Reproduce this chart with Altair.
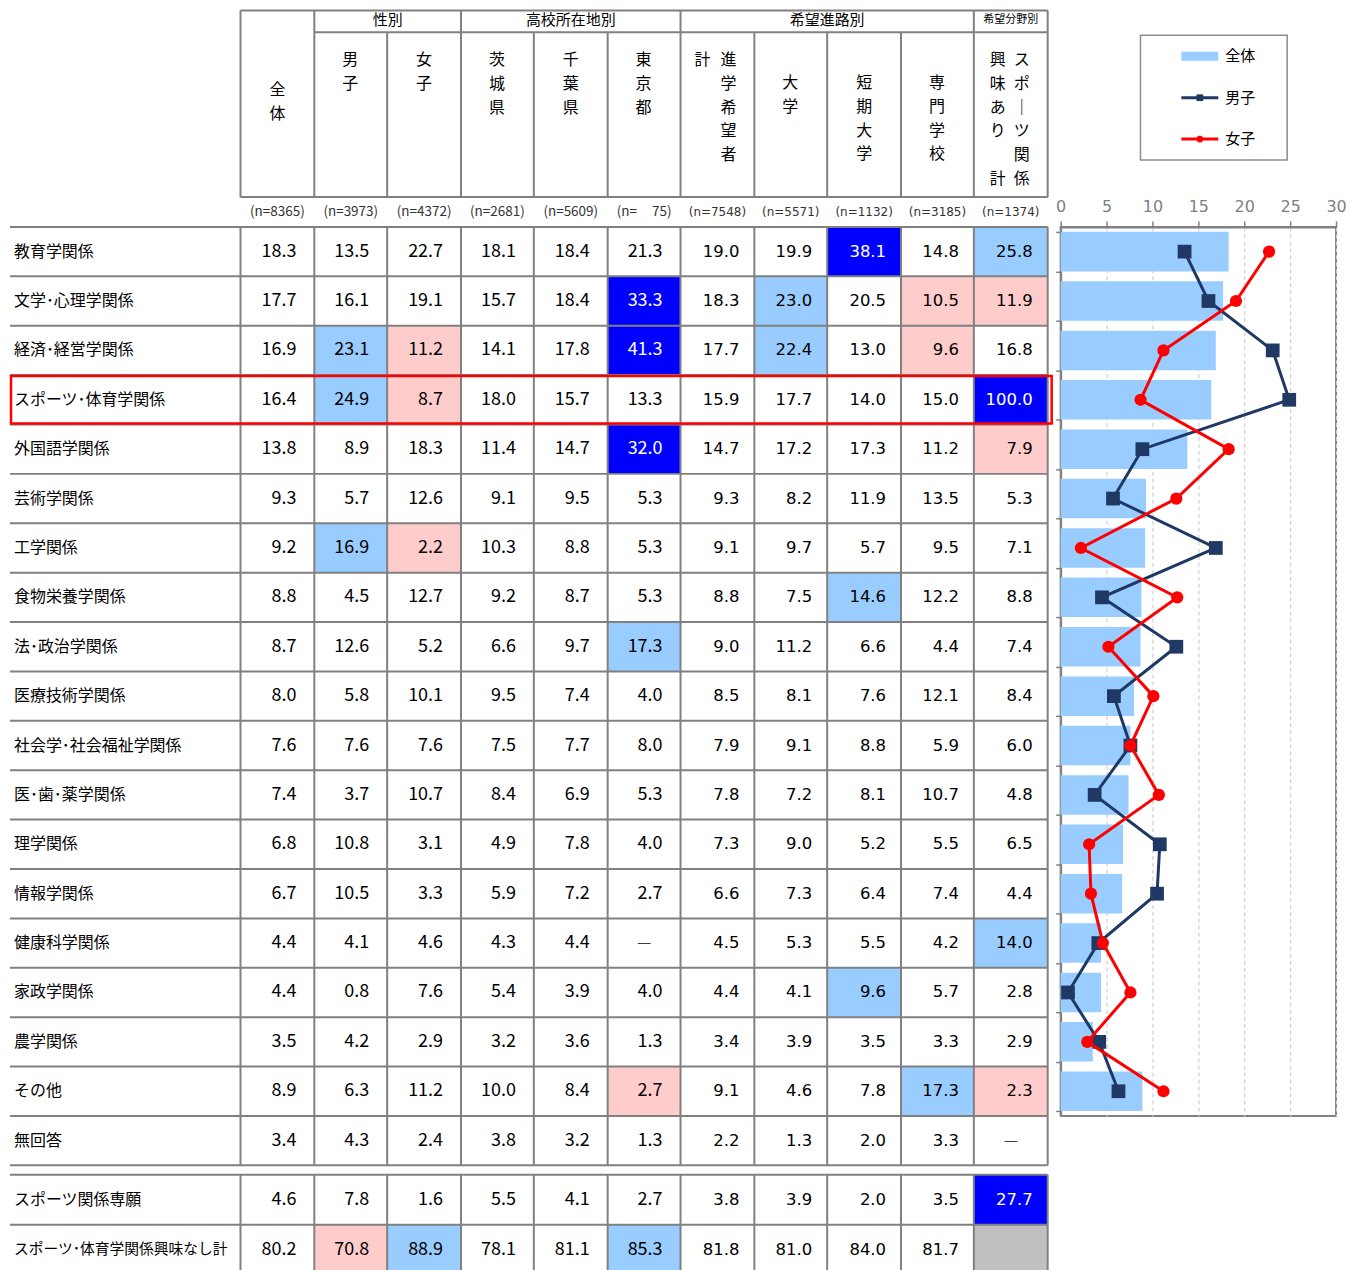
import altair as alt
import pandas as pd

# ---------------- data ----------------
row_labels = ["教育学関係", "文学･心理学関係", "経済･経営学関係", "スポーツ･体育学関係", "外国語学関係",
              "芸術学関係", "工学関係", "食物栄養学関係", "法･政治学関係", "医療技術学関係",
              "社会学･社会福祉学関係", "医･歯･薬学関係", "理学関係", "情報学関係", "健康科学関係",
              "家政学関係", "農学関係", "その他", "無回答",
              "スポーツ関係専願", "スポーツ･体育学関係興味なし計"]

group_labels = ["性別", "高校所在地別", "希望進路別", "希望分野別"]
n_labels = ["(n=8365)", "(n=3973)", "(n=4372)", "(n=2681)", "(n=5609)", "(n=\u2007\u200775)",
            "(n=7548)", "(n=5571)", "(n=1132)", "(n=3185)", "(n=1374)"]

# columns: 全体, 男子, 女子, 茨城県, 千葉県, 東京都, 進学希望者計, 大学, 短期大学, 専門学校, スポーツ関係興味あり計
table_values = [
    [18.3, 13.5, 22.7, 18.1, 18.4, 21.3, 19.0, 19.9, 38.1, 14.8, 25.8],
    [17.7, 16.1, 19.1, 15.7, 18.4, 33.3, 18.3, 23.0, 20.5, 10.5, 11.9],
    [16.9, 23.1, 11.2, 14.1, 17.8, 41.3, 17.7, 22.4, 13.0, 9.6, 16.8],
    [16.4, 24.9, 8.7, 18.0, 15.7, 13.3, 15.9, 17.7, 14.0, 15.0, 100.0],
    [13.8, 8.9, 18.3, 11.4, 14.7, 32.0, 14.7, 17.2, 17.3, 11.2, 7.9],
    [9.3, 5.7, 12.6, 9.1, 9.5, 5.3, 9.3, 8.2, 11.9, 13.5, 5.3],
    [9.2, 16.9, 2.2, 10.3, 8.8, 5.3, 9.1, 9.7, 5.7, 9.5, 7.1],
    [8.8, 4.5, 12.7, 9.2, 8.7, 5.3, 8.8, 7.5, 14.6, 12.2, 8.8],
    [8.7, 12.6, 5.2, 6.6, 9.7, 17.3, 9.0, 11.2, 6.6, 4.4, 7.4],
    [8.0, 5.8, 10.1, 9.5, 7.4, 4.0, 8.5, 8.1, 7.6, 12.1, 8.4],
    [7.6, 7.6, 7.6, 7.5, 7.7, 8.0, 7.9, 9.1, 8.8, 5.9, 6.0],
    [7.4, 3.7, 10.7, 8.4, 6.9, 5.3, 7.8, 7.2, 8.1, 10.7, 4.8],
    [6.8, 10.8, 3.1, 4.9, 7.8, 4.0, 7.3, 9.0, 5.2, 5.5, 6.5],
    [6.7, 10.5, 3.3, 5.9, 7.2, 2.7, 6.6, 7.3, 6.4, 7.4, 4.4],
    [4.4, 4.1, 4.6, 4.3, 4.4, None, 4.5, 5.3, 5.5, 4.2, 14.0],
    [4.4, 0.8, 7.6, 5.4, 3.9, 4.0, 4.4, 4.1, 9.6, 5.7, 2.8],
    [3.5, 4.2, 2.9, 3.2, 3.6, 1.3, 3.4, 3.9, 3.5, 3.3, 2.9],
    [8.9, 6.3, 11.2, 10.0, 8.4, 2.7, 9.1, 4.6, 7.8, 17.3, 2.3],
    [3.4, 4.3, 2.4, 3.8, 3.2, 1.3, 2.2, 1.3, 2.0, 3.3, None],
    [4.6, 7.8, 1.6, 5.5, 4.1, 2.7, 3.8, 3.9, 2.0, 3.5, 27.7],
    [80.2, 70.8, 88.9, 78.1, 81.1, 85.3, 81.8, 81.0, 84.0, 81.7, None],
]

# highlighted cells (row, column)
blue_cells = [(0, 8), (1, 5), (2, 5), (3, 10), (4, 5), (19, 10)]
light_cells = [(0, 10), (1, 7), (2, 1), (2, 7), (3, 1), (6, 1), (7, 8), (8, 5),
               (14, 10), (15, 8), (17, 9), (20, 2), (20, 5)]
pink_cells = [(1, 9), (1, 10), (2, 2), (2, 9), (3, 2), (4, 10), (6, 2), (17, 5), (17, 10), (20, 1)]
gray_cells = [(20, 10)]

# vertical column headers (stacked top to bottom)
col_headers = ["全体", "男子", "女子", "茨城県", "千葉県", "東京都", "進学希望者", "計",
               "大学", "短期大学", "専門学校", "スポ｜ツ関係", "興味あり", "計"]

legend_names = ["全体", "男子", "女子"]

# ---------------- layout (page pixels) ----------------
PX0, PY0 = 8, 8
T_RIGHT, T_BOTTOM = 1054, 1276
COL_EDGES = [240, 314, 387, 461, 534, 608, 681, 755, 828, 902, 975, 1049]
LABEL_X = 13
HDR_TOP, HDR_MID, HDR_BOT = 9, 31, 196
N_Y = 211
BODY_TOP, ROW_H = 226, 49.5
LOW_TOP, LOW_H = 1176, 50
CHAR_STEP = 23.7
HDR_POS = [(277, 89), (350, 59), (424, 59), (497, 59), (571, 59), (644, 59), (729, 59), (703, 59),
           (791, 82), (865, 82), (938, 82), (1023, 59), (999, 59), (999, 178)]
GROUP_POS = [(387.5, 19, 15), (571, 19, 15), (828, 19, 15), (1012, 19, 11)]


def row_span(r):
    if r < 19:
        return BODY_TOP + ROW_H * r, BODY_TOP + ROW_H * (r + 1)
    return LOW_TOP + LOW_H * (r - 19), LOW_TOP + LOW_H * (r - 18)


fill_of = {}
for rc in blue_cells:
    fill_of[rc] = "#0000FF"
for rc in light_cells:
    fill_of[rc] = "#99CCFF"
for rc in pink_cells:
    fill_of[rc] = "#FFCCCC"
for rc in gray_cells:
    fill_of[rc] = "#C0C0C0"

cells = []
for r, row in enumerate(table_values):
    y1, y2 = row_span(r)
    for c, v in enumerate(row):
        x1, x2 = COL_EDGES[c], COL_EDGES[c + 1]
        fill = fill_of.get((r, c), "none")
        if v is None:
            label = "" if (r, c) in gray_cells else "—"
            kind = "dash"
        else:
            label = f"{v:.1f}"
            kind = "num"
        cells.append(dict(x1=x1, x2=x2, y1=y1, y2=y2, ym=(y1 + y2) / 2,
                          xr=x2 - (18 if c < 6 else 15),
                          xc=(x1 + x2) / 2, fill=fill, label=label, kind=kind,
                          side="L" if c < 6 else "R",
                          tcolor="#FFFFFF" if fill == "#0000FF" else "#000000"))
cells_df = pd.DataFrame(cells)

labels_df = pd.DataFrame([dict(x=LABEL_X, y=sum(row_span(r)) / 2, label=lab, long=len(lab) > 12)
                          for r, lab in enumerate(row_labels)])

lines = []
lines.append((240, HDR_TOP, 1049, HDR_TOP))
lines.append((314, HDR_MID, 1049, HDR_MID))
lines.append((240, HDR_BOT, 1049, HDR_BOT))
for x in [240, 314, 461, 681, 975, 1049]:
    lines.append((x, HDR_TOP, x, HDR_BOT))
for x in [387, 534, 608, 755, 828, 902]:
    lines.append((x, HDR_MID, x, HDR_BOT))
for i in range(20):
    y = BODY_TOP + ROW_H * i
    lines.append((9, y, 1049, y))
for j in range(3):
    y = LOW_TOP + LOW_H * j
    lines.append((9, y, 1049, y))
for x in COL_EDGES:
    lines.append((x, BODY_TOP, x, BODY_TOP + ROW_H * 19))
    lines.append((x, LOW_TOP, x, LOW_TOP + 2 * LOW_H))
lines_df = pd.DataFrame(lines, columns=["x1", "y1", "x2", "y2"])

hdr_chars = []
for text, (hx, hy) in zip(col_headers, HDR_POS):
    for k, ch in enumerate(text):
        hdr_chars.append(dict(x=hx, y=hy + CHAR_STEP * k, ch=ch))
hdr_df = pd.DataFrame(hdr_chars)

grp_df = pd.DataFrame([dict(x=gx, y=gy, fs=fs, label=g) for g, (gx, gy, fs) in zip(group_labels, GROUP_POS)])
n_df = pd.DataFrame([dict(x=(COL_EDGES[c] + COL_EDGES[c + 1]) / 2, y=N_Y, label=lab,
                          side="L" if c < 6 else "R") for c, lab in enumerate(n_labels)])

hl_y1, hl_y2 = row_span(3)
hl_df = pd.DataFrame([dict(x1=10, x2=1053, y1=hl_y1 + 1, y2=hl_y2 - 1)])

# ---------------- table chart ----------------
xs = alt.Scale(domain=[PX0, T_RIGHT], nice=False, zero=False)
ys = alt.Scale(domain=[PY0, T_BOTTOM], nice=False, zero=False, reverse=True)


def X(f):
    return alt.X(f"{f}:Q", scale=xs, axis=None)


def Y(f):
    return alt.Y(f"{f}:Q", scale=ys, axis=None)


JP = "Noto Sans CJK JP"

fills = alt.Chart(cells_df).transform_filter("datum.fill != 'none'").mark_rect().encode(
    x=X("x1"), x2="x2", y=Y("y1"), y2="y2", color=alt.Color("fill:N", scale=None))
rules = alt.Chart(lines_df).mark_rule(color="#808080", strokeWidth=2).encode(
    x=X("x1"), x2="x2", y=Y("y1"), y2="y2")
nums_l = alt.Chart(cells_df).transform_filter("datum.kind == 'num' && datum.side == 'L'").mark_text(
    align="right", baseline="middle", font=JP, fontSize=18).encode(
    x=X("xr"), y=Y("ym"), text="label:N", color=alt.Color("tcolor:N", scale=None))
nums_r = alt.Chart(cells_df).transform_filter("datum.kind == 'num' && datum.side == 'R'").mark_text(
    align="right", baseline="middle", font="DejaVu Sans", fontSize=16.5).encode(
    x=X("xr"), y=Y("ym"), text="label:N", color=alt.Color("tcolor:N", scale=None))
dashes = alt.Chart(cells_df).transform_filter("datum.kind == 'dash'").mark_text(
    align="center", baseline="middle", font=JP, fontSize=16, color="#404040").encode(
    x=X("xc"), y=Y("ym"), text="label:N")
row_text = alt.Chart(labels_df).transform_filter("!datum.long").mark_text(
    align="left", baseline="middle", font=JP, fontSize=16, color="#000000").encode(
    x=X("x"), y=Y("y"), text="label:N")
row_text_long = alt.Chart(labels_df).transform_filter("datum.long").mark_text(
    align="left", baseline="middle", font=JP, fontSize=14.8, color="#000000").encode(
    x=X("x"), y=Y("y"), text="label:N")
hdr_text = alt.Chart(hdr_df).mark_text(align="center", baseline="middle", font=JP, fontSize=16,
                                       color="#000000").encode(x=X("x"), y=Y("y"), text="ch:N")
grp_big = alt.Chart(grp_df).transform_filter("datum.fs > 12").mark_text(
    align="center", baseline="middle", font=JP, fontSize=15, color="#000000").encode(
    x=X("x"), y=Y("y"), text="label:N")
grp_small = alt.Chart(grp_df).transform_filter("datum.fs <= 12").mark_text(
    align="center", baseline="middle", font=JP, fontSize=11, color="#000000").encode(
    x=X("x"), y=Y("y"), text="label:N")
n_l = alt.Chart(n_df).transform_filter("datum.side == 'L'").mark_text(
    align="center", baseline="middle", font=JP, fontSize=13.5, color="#333333").encode(
    x=X("x"), y=Y("y"), text="label:N")
n_r = alt.Chart(n_df).transform_filter("datum.side == 'R'").mark_text(
    align="center", baseline="middle", font="DejaVu Sans", fontSize=12, color="#333333").encode(
    x=X("x"), y=Y("y"), text="label:N")
hl = alt.Chart(hl_df).mark_rect(fill="transparent", stroke="#FF0000", strokeWidth=2.5).encode(
    x=X("x1"), x2="x2", y=Y("y1"), y2="y2")

table = alt.layer(fills, rules, nums_l, nums_r, dashes, row_text, row_text_long, hdr_text,
                  grp_big, grp_small, n_l, n_r, hl).properties(
    width=T_RIGHT - PX0, height=T_BOTTOM - PY0,
    view=alt.ViewBackground(stroke="transparent"))

# ---------------- bar + line chart ----------------
cats = row_labels[:18]
bar_df = pd.DataFrame({
    "cat": cats,
    "idx": list(range(18)),
    "total": [r[0] for r in table_values[:18]],
    "male": [r[1] for r in table_values[:18]],
    "female": [r[2] for r in table_values[:18]],
})

yaxis = alt.Axis(labels=False, title=None, tickBand="extent", ticks=True, tickSize=5,
                 tickColor="#808080", tickWidth=1.5, domainColor="#808080", domainWidth=2)
ybar = alt.Y("cat:N", sort=None, title=None,
             scale=alt.Scale(type="band", domain=cats, paddingInner=0.2, paddingOuter=0.1),
             axis=yaxis)
xaxis = alt.Axis(orient="top", values=[0, 5, 10, 15, 20, 25, 30], title=None, labelColor="#7F7F7F",
                 labelFontSize=16, labelFont="DejaVu Sans", labelFlush=False, tickSize=6,
                 tickColor="#808080", tickWidth=1.5, domainColor="#808080", domainWidth=2,
                 labelPadding=6, grid=True, gridDash=[4, 3], gridColor="#D0D0D0", gridWidth=1.2)
xsc = alt.Scale(domain=[0, 30], nice=False, zero=True)

bars = alt.Chart(bar_df).mark_bar(color="#99CCFF").encode(
    x=alt.X("total:Q", scale=xsc, axis=xaxis, title=None), y=ybar)
male_line = alt.Chart(bar_df).mark_line(color="#1F3864", strokeWidth=3).encode(
    x=alt.X("male:Q", scale=xsc, axis=xaxis, title=None), y=ybar, order=alt.Order("idx:Q"))
male_pts = alt.Chart(bar_df).mark_point(shape="square", filled=True, size=190, color="#1F3864",
                                        opacity=1).encode(
    x=alt.X("male:Q", scale=xsc, axis=xaxis, title=None), y=ybar)
female_line = alt.Chart(bar_df).mark_line(color="#FF0000", strokeWidth=3).encode(
    x=alt.X("female:Q", scale=xsc, axis=xaxis, title=None), y=ybar, order=alt.Order("idx:Q"))
female_pts = alt.Chart(bar_df).mark_point(shape="circle", filled=True, size=150, color="#FF0000",
                                          opacity=1).encode(
    x=alt.X("female:Q", scale=xsc, axis=xaxis, title=None), y=ybar)

plot = alt.layer(bars, male_line, male_pts, female_line, female_pts).properties(
    width=276, height=ROW_H * 18,
    view=alt.ViewBackground(stroke="#808080", strokeWidth=2))

# ---------------- custom legend ----------------
leg_df = pd.DataFrame({"name": legend_names})
ly = alt.Y("name:N", scale=alt.Scale(type="point", domain=legend_names, range=[47, 130], padding=0),
           axis=None)
box = alt.Chart(pd.DataFrame({"k": [0]})).mark_rect(fill="white", stroke="#8C8C8C", strokeWidth=1.5).encode(
    x=alt.value(80), x2=alt.value(227), y=alt.value(26), y2=alt.value(151))
sw_total = alt.Chart(leg_df).transform_filter("datum.name == '全体'").mark_rule(
    color="#99CCFF", strokeWidth=9, strokeCap="butt").encode(x=alt.value(121), x2=alt.value(158), y=ly)
sw_male = alt.Chart(leg_df).transform_filter("datum.name == '男子'").mark_rule(
    color="#1F3864", strokeWidth=3, strokeCap="butt").encode(x=alt.value(121), x2=alt.value(158), y=ly)
pt_male = alt.Chart(leg_df).transform_filter("datum.name == '男子'").mark_point(
    shape="square", filled=True, size=45, color="#1F3864", opacity=1).encode(x=alt.value(139.5), y=ly)
sw_female = alt.Chart(leg_df).transform_filter("datum.name == '女子'").mark_rule(
    color="#FF0000", strokeWidth=3, strokeCap="butt").encode(x=alt.value(121), x2=alt.value(158), y=ly)
pt_female = alt.Chart(leg_df).transform_filter("datum.name == '女子'").mark_point(
    shape="circle", filled=True, size=45, color="#FF0000", opacity=1).encode(x=alt.value(139.5), y=ly)
leg_text = alt.Chart(leg_df).mark_text(align="left", baseline="middle", font=JP, fontSize=15,
                                       color="#000000").encode(x=alt.value(165), y=ly, text="name:N")
legend = alt.layer(box, sw_total, sw_male, pt_male, sw_female, pt_female, leg_text).properties(
    width=276, height=160, view=alt.ViewBackground(stroke="transparent"))

right = alt.vconcat(legend, plot, spacing=BODY_TOP - PY0 - 160, bounds="flush")

chart = alt.hconcat(table, right, spacing=8, bounds="flush").properties(
    padding={"left": 0, "top": -1, "right": 10, "bottom": 0}
).configure(font=JP)

chart.save("out.html", embed_options={"renderer": "svg", "actions": False})
